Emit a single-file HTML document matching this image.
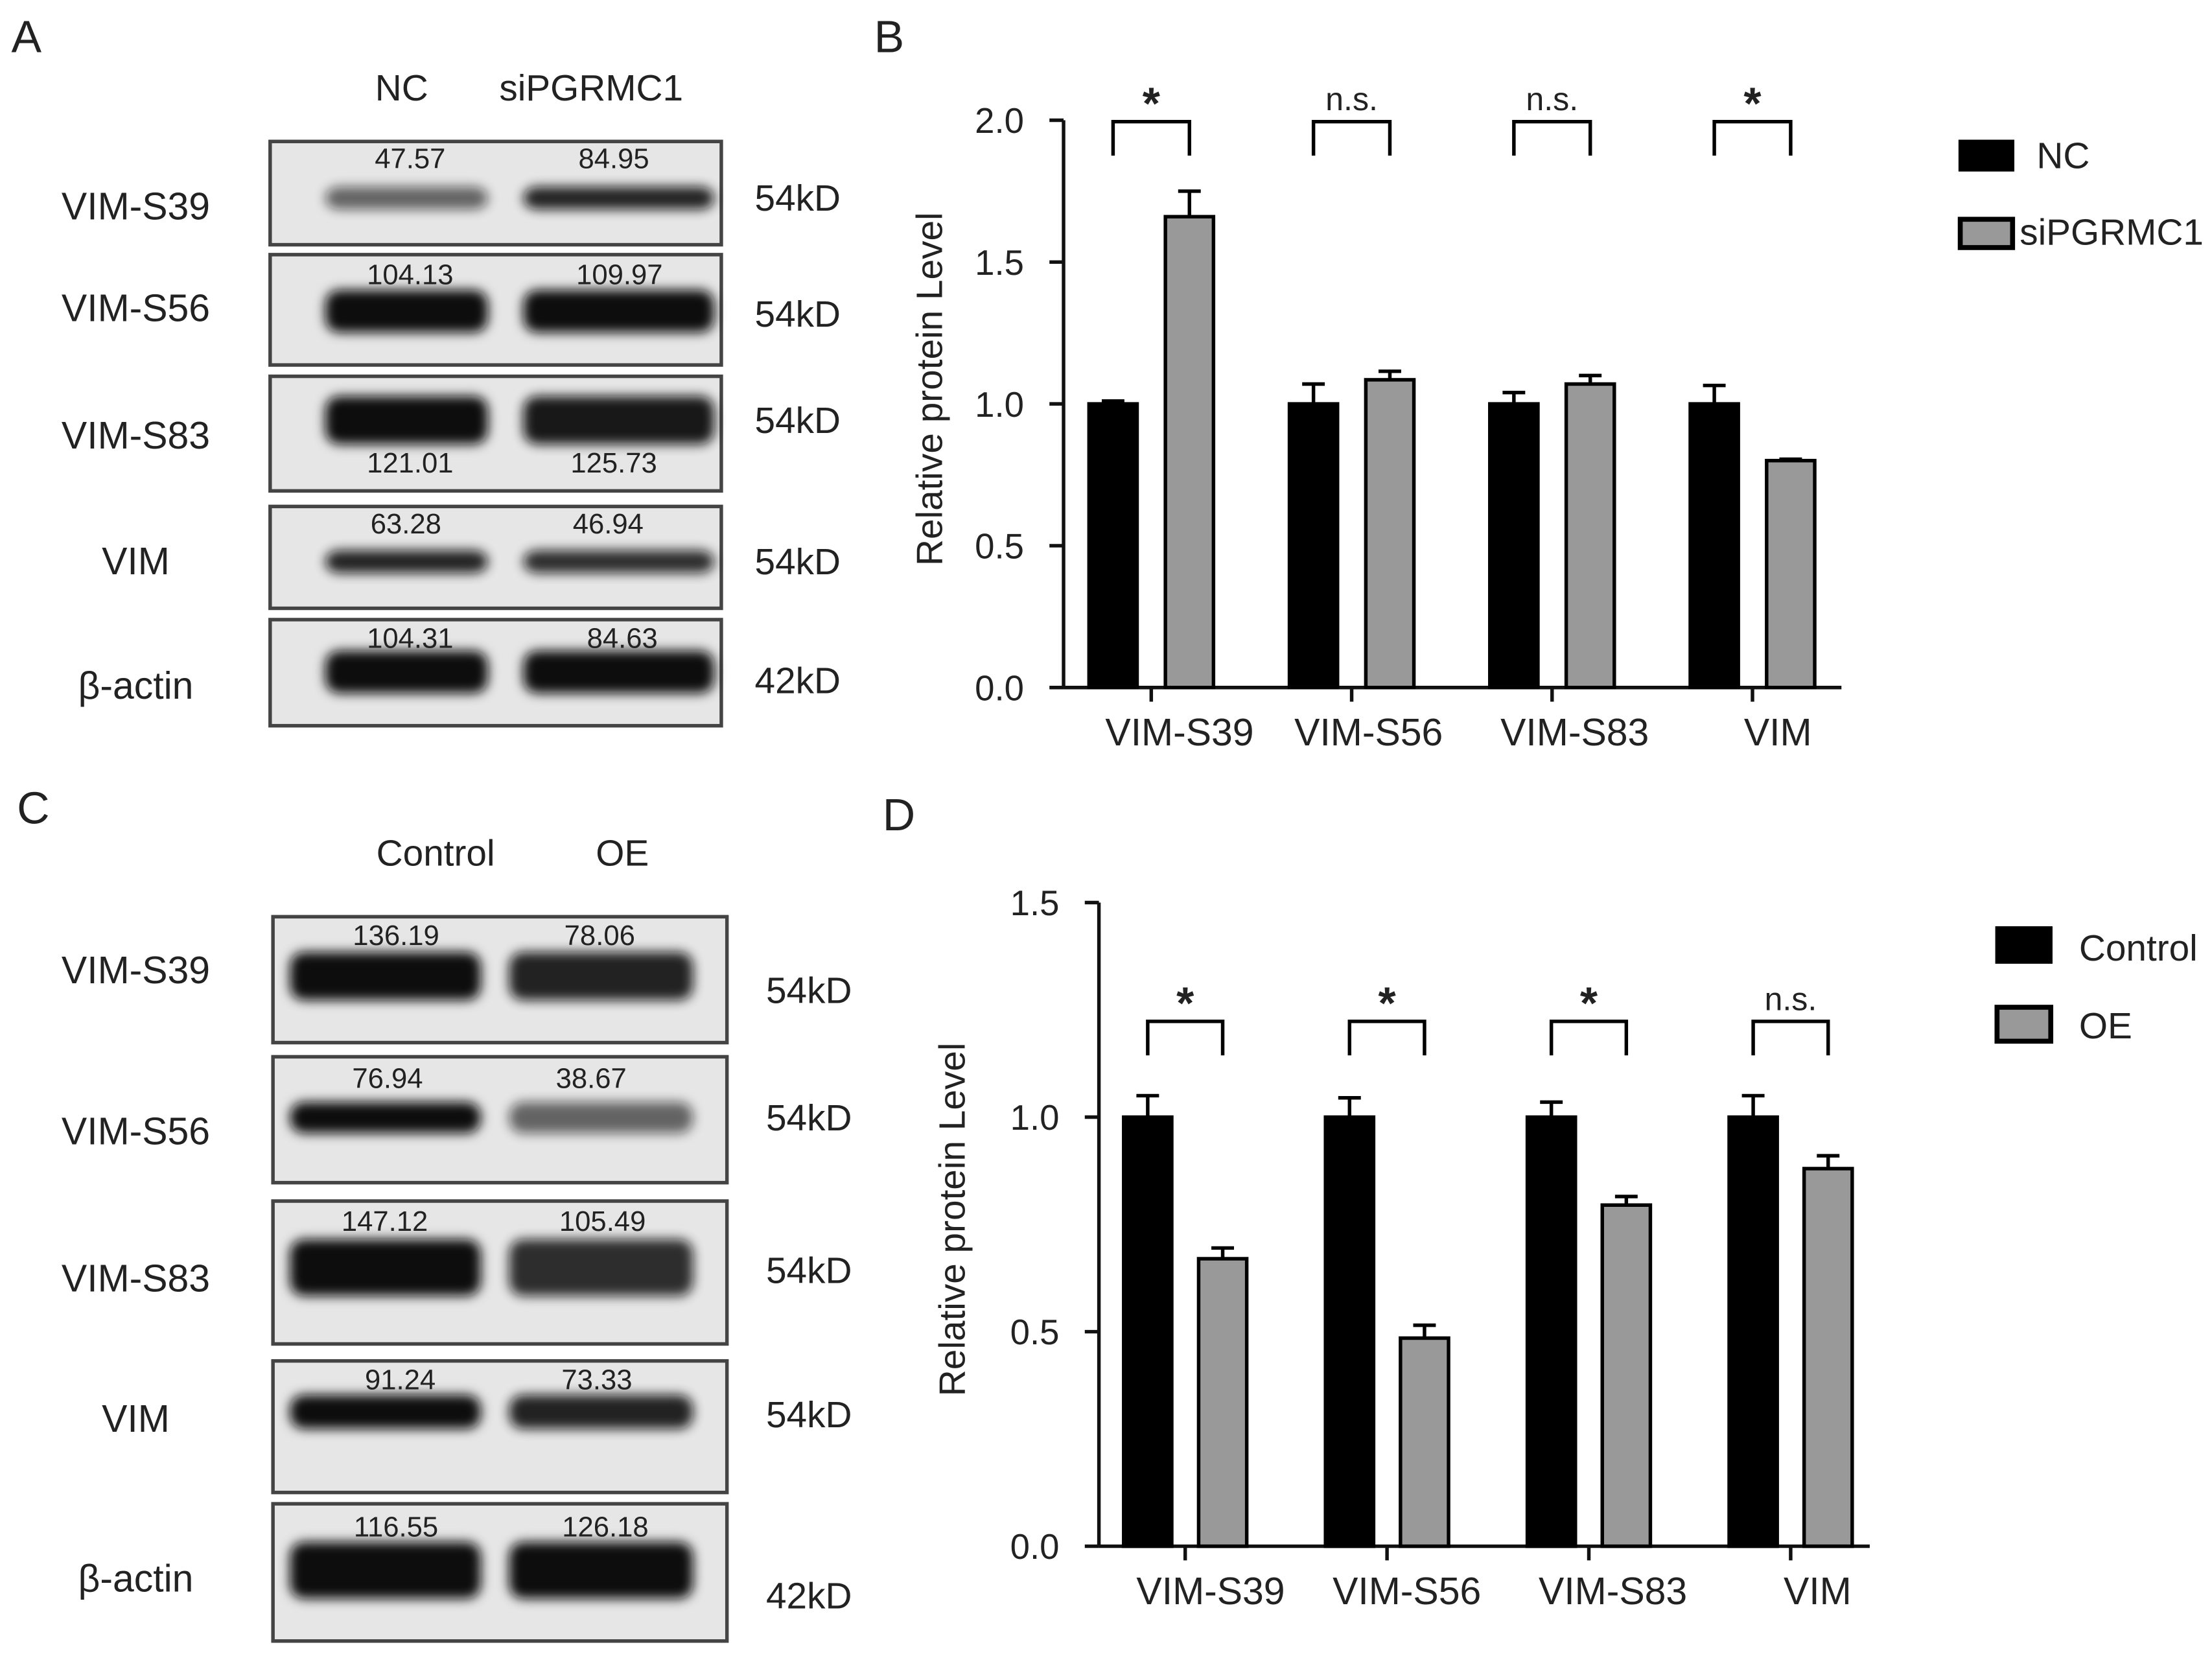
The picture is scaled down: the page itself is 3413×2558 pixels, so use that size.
<!DOCTYPE html>
<html><head><meta charset="utf-8"><style>
html,body{margin:0;padding:0;background:#fff}
svg{display:block}
text{font-family:"Liberation Sans",Arial,sans-serif;fill:#222}
</style></head><body>
<svg id="fig" width="3413" height="2558" viewBox="0 0 1564 1172" preserveAspectRatio="none" xmlns="http://www.w3.org/2000/svg">
<defs><filter id="blur" x="-20%" y="-50%" width="140%" height="200%"><feGaussianBlur stdDeviation="4"/></filter></defs>
<g font-size="32">
<text x="8" y="37">A</text>
<text x="618" y="37">B</text>
<text x="12" y="582">C</text>
<text x="624" y="587">D</text>
</g>
<g id="blotA"></g>
<g id="blotC"></g>
<g id="chartB"></g>
<g id="chartD"></g>
</svg>
<script>
const NS="http://www.w3.org/2000/svg";
function mk(tag,attrs,parent,txt){const e=document.createElementNS(NS,tag);for(const k in attrs)e.setAttribute(k,attrs[k]);if(txt!==undefined)e.textContent=txt;parent.appendChild(e);return e;}

// ---------- Blots ----------
const blotRowsA=["VIM-S39","VIM-S56","VIM-S83","VIM","β-actin"];
const blotKdA=["54kD","54kD","54kD","54kD","42kD"];
const blotNumsA=[["47.57","84.95"],["104.13","109.97"],["121.01","125.73"],["63.28","46.94"],["104.31","84.63"]];
const blotRowsC=["VIM-S39","VIM-S56","VIM-S83","VIM","β-actin"];
const blotKdC=["54kD","54kD","54kD","54kD","42kD"];
const blotNumsC=[["136.19","78.06"],["76.94","38.67"],["147.12","105.49"],["91.24","73.33"],["116.55","126.18"]];

function blot(g,cfg){
  mk('text',{x:cfg.h1x,y:cfg.hy,'font-size':26,'text-anchor':'middle',},g,cfg.heads[0]);
  mk('text',{x:cfg.h2x,y:cfg.hy,'font-size':26,'text-anchor':'middle',},g,cfg.heads[1]);
  cfg.boxes.forEach((b,i)=>{
    const r=mk('g',{},g);
    mk('rect',{x:cfg.x0,y:b[0],width:cfg.x1-cfg.x0,height:b[1]-b[0],fill:'#e6e6e6',stroke:'#444','stroke-width':2.5},r);
    const bd=cfg.bands[i];
    [[cfg.b1[0],cfg.b1[1],bd[2]],[cfg.b2[0],cfg.b2[1],bd[3]]].forEach(L=>{
      mk('rect',{x:L[0],y:bd[0]-bd[1]/2,width:L[1]-L[0],height:bd[1],rx:10,fill:'#111',opacity:L[2],filter:'url(#blur)'},r);
    });
    mk('text',{x:cfg.n1x[i],y:cfg.ny[i],'font-size':20,'text-anchor':'middle',},r,cfg.nums[i][0]);
    mk('text',{x:cfg.n2x[i],y:cfg.ny[i],'font-size':20,'text-anchor':'middle',},r,cfg.nums[i][1]);
    mk('text',{x:96,y:cfg.ly[i],'font-size':27,'text-anchor':'middle',},r,cfg.rows[i]);
    mk('text',{x:cfg.kx,y:cfg.ky[i],'font-size':26,'text-anchor':'middle',},r,cfg.kd[i]);
  });
}
blot(document.getElementById('blotA'),{heads:["NC","siPGRMC1"],h1x:284,h2x:418,hy:71,x0:191,x1:510,
  boxes:[[100,173],[180,258],[266,347],[358,430],[438,513]],
  bands:[[140,16,0.6,0.9],[220,30,1,1],[297,34,1,0.95],[397,16,0.9,0.85],[475,30,1,1]],
  b1:[230,345],b2:[370,505],nums:blotNumsA,rows:blotRowsA,kd:blotKdA,
  n1x:[290,290,290,287,290],n2x:[434,438,434,430,440],ny:[119,201,334,377,458],
  ly:[155,227,317,406,494],kx:564,ky:[149,231,306,406,490]});
blot(document.getElementById('blotC'),{heads:["Control","OE"],h1x:308,h2x:440,hy:612,x0:193,x1:514,
  boxes:[[648,737],[747,836],[849,950],[962,1055],[1063,1160]],
  bands:[[690,34,1,0.9],[790,22,1,0.6],[896,40,1,0.85],[998,24,1,0.9],[1110,40,1,1]],
  b1:[205,340],b2:[360,490],nums:blotNumsC,rows:blotRowsC,kd:blotKdC,
  n1x:[280,274,272,283,280],n2x:[424,418,426,422,428],ny:[668,769,870,982,1086],
  ly:[695,809,913,1012,1125],kx:572,ky:[709,799,907,1009,1137]});

// ---------- Bar chart B ----------
const catsB=["VIM-S39","VIM-S56","VIM-S83","VIM"];
const ncValsB=[1.0,1.0,1.0,1.0];
const ncErrB=[0.01,0.07,0.04,0.065];
const siValsB=[1.66,1.085,1.07,0.80];
const siErrB=[0.09,0.03,0.03,0.005];
const sigB=["*","n.s.","n.s.","*"];
const ticksB=[0,0.5,1.0,1.5,2.0];
const tickLabelsB=["0.0","0.5","1.0","1.5","2.0"];
// ---------- Bar chart D ----------
const catsD=["VIM-S39","VIM-S56","VIM-S83","VIM"];
const ctrlValsD=[1.0,1.0,1.0,1.0];
const ctrlErrD=[0.05,0.045,0.035,0.05];
const oeValsD=[0.67,0.485,0.795,0.88];
const oeErrD=[0.025,0.03,0.02,0.03];
const sigD=["*","*","*","n.s."];
const ticksD=[0,0.5,1.0,1.5];
const tickLabelsD=["0.0","0.5","1.0","1.5"];

function chart(g,c){
  const y=v=>c.y0-(v-0)*(c.y0-c.yTop)/(c.max);
  const ax=mk('g',{},g);
  mk('line',{x1:c.ax,y1:c.yTop,x2:c.ax,y2:c.y0,stroke:'#111','stroke-width':2.5},ax);
  mk('line',{x1:c.ax,y1:c.y0,x2:c.axEnd,y2:c.y0,stroke:'#111','stroke-width':2.5},ax);
  c.ticks.forEach((t,i)=>{
    mk('line',{x1:c.ax-10,y1:y(t),x2:c.ax,y2:y(t),stroke:'#111','stroke-width':2.5},ax);
    mk('text',{x:c.ax-28,y:y(t)+9,'font-size':25,'text-anchor':'end',},ax,c.tickLabels[i]);
  });
  mk('text',{x:0,y:0,transform:`translate(${c.titleX},${c.titleY}) rotate(-90)`,'font-size':26,'text-anchor':'middle',},ax,'Relative protein Level');
  c.cats.forEach((cat,i)=>{
    const gx=c.g0+i*c.gs;
    mk('line',{x1:gx,y1:c.y0,x2:gx,y2:c.y0+10,stroke:'#111','stroke-width':2.5},ax);
    mk('text',{x:gx+c.lblOff[i],y:c.y0+41,'font-size':27,'text-anchor':'middle',},ax,cat);
    [[c.a,c.aErr,'#000',-1],[c.b,c.bErr,'#999',1]].forEach((s,k)=>{
      const cx=gx+s[3]*c.off, v=s[0][i], e=s[1][i];
      const bar=mk('rect',{x:cx-c.bw/2,y:y(v),width:c.bw,height:c.y0-y(v),fill:s[2],stroke:'#000','stroke-width':2.5},g);
      
      
      mk('path',{d:`M${cx} ${y(v)} V${y(v+e)} M${cx-8} ${y(v+e)} H${cx+8}`,stroke:'#000','stroke-width':2.5,fill:'none',},g);
    });
    const l=gx-c.off, r=gx+c.off;
    mk('path',{d:`M${l} ${c.brB} V${c.brT} H${r} V${c.brB}`,stroke:'#000','stroke-width':2.5,fill:'none',},g);
    const star=c.sig[i]==='*';
    mk('text',{x:gx,y:star?c.brT-2:c.brT-8,'font-size':star?32:23,'font-weight':star?'bold':'normal','text-anchor':'middle',},g,c.sig[i]);
  });
  const lg=mk('g',{},g);
  mk('rect',{x:c.lx,y:c.l1y,width:c.lw,height:c.lh,fill:'#000',stroke:'#000','stroke-width':2.5,},lg);
  mk('text',{x:c.ltx1,y:c.l1y+c.lh-1,'font-size':26,},lg,c.names[0]);
  mk('rect',{x:c.lx,y:c.l2y,width:c.lw,height:c.lh,fill:'#999',stroke:'#000','stroke-width':3.5,},lg);
  mk('text',{x:c.ltx2,y:c.l2y+c.lh-2,'font-size':26,},lg,c.names[1]);
}
chart(document.getElementById('chartB'),{y0:486,yTop:85,max:2.0,ax:752,axEnd:1302,ticks:ticksB,tickLabels:tickLabelsB,
  titleX:666,titleY:275,cats:catsB,g0:814,gs:141.7,off:27,bw:34,lblOff:[20,12,16,18],
  a:ncValsB,aErr:ncErrB,b:siValsB,bErr:siErrB,sig:sigB,brT:86,brB:110,
  lx:1386,l1y:100,l2y:155,lw:37,lh:20,ltx1:1440,ltx2:1428,names:["NC","siPGRMC1"]});
chart(document.getElementById('chartD'),{y0:1093,yTop:638,max:1.5,ax:777,axEnd:1322,ticks:ticksD,tickLabels:tickLabelsD,
  titleX:682,titleY:862,cats:catsD,g0:838,gs:142.7,off:26.5,bw:34,lblOff:[18,14,17,19],
  a:ctrlValsD,aErr:ctrlErrD,b:oeValsD,bErr:oeErrD,sig:sigD,brT:722,brB:746,
  lx:1412,l1y:656,l2y:712,lw:38,lh:24,ltx1:1470,ltx2:1470,names:["Control","OE"]});
</script>
</body></html>
